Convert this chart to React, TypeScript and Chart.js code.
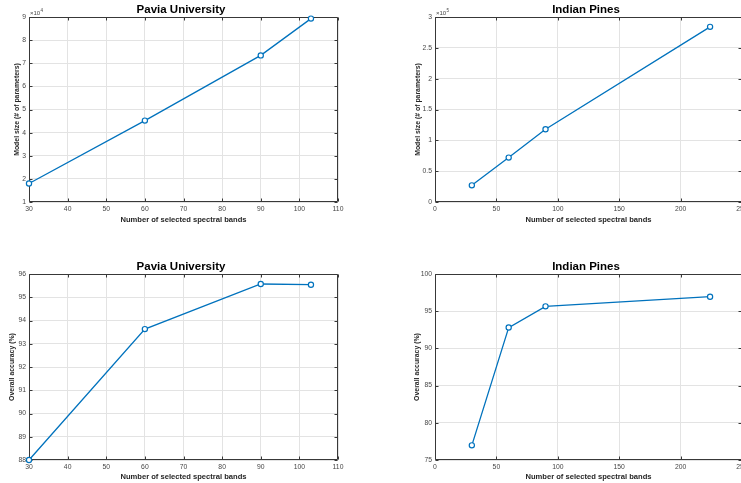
import React, { useEffect, useRef } from 'react';
import { Chart, registerables } from 'chart.js';

Chart.register(...registerables);

// ---- data ----
const puBands = [30, 60, 90, 103];
const puModelSize = [18000, 45200, 73400, 89300];
const puAccuracy = [88.0, 93.63, 95.57, 95.54];

const ipBands = [30, 60, 90, 224];
const ipModelSize = [27000, 72000, 118000, 284000];
const ipAccuracy = [76.97, 92.8, 95.65, 96.95];

// ---- tick labels ----
const puBandTicks = [30, 40, 50, 60, 70, 80, 90, 100, 110];
const ipBandTicks = [0, 50, 100, 150, 200, 250];
const puSizeTicks = [1, 2, 3, 4, 5, 6, 7, 8, 9]; // x10^4
const ipSizeTicks = [0, 0.5, 1, 1.5, 2, 2.5, 3]; // x10^5
const puAccTicks = [88, 89, 90, 91, 92, 93, 94, 95, 96];
const ipAccTicks = [75, 80, 85, 90, 95, 100];

const puSizeExp = 4;
const ipSizeExp = 5;

const titlePU = 'Pavia University';
const titleIP = 'Indian Pines';
const xLabel = 'Number of selected spectral bands';
const yLabelSize = 'Model size (# of parameters)';
const yLabelAcc = 'Overall accuracy (%)';

const FONT = '"Liberation Sans", Arial, Helvetica, sans-serif';
const BLUE = '#0072BD';
const GRID = '#e3e3e3';
const AXIS = '#383838';
const TICK = '#474747';
const LABEL = '#262626';

type PanelProps = {
  left: number;
  top: number;
  width: number;
  height: number;
  area: { l: number; r: number; t: number; b: number };
  xs: number[];
  ys: number[];
  xTicks: number[];
  yTicks: number[];
  exp: number | null;
  title: string;
  yTitle: string;
  yTitlePad: number;
  xTitlePad: number;
};

function Panel(p: PanelProps) {
  const ref = useRef<HTMLCanvasElement>(null);

  useEffect(() => {
    const canvas = ref.current;
    if (!canvas) return;
    const { area } = p;
    const factor = p.exp === null ? 1 : Math.pow(10, p.exp);
    const yVals = p.yTicks.map((t) => t * factor);

    const plugin = {
      id: 'matlabAxes',
      beforeDatasetsDraw(chart: any) {
        const { ctx, chartArea: a, scales } = chart;
        const sx = scales.x;
        const sy = scales.y;
        const L = Math.round(a.left) + 0.5;
        const R = Math.round(a.right) - 0.5;
        const T = Math.round(a.top) + 0.5;
        const B = Math.round(a.bottom) - 0.5;
        ctx.save();
        ctx.strokeStyle = AXIS;
        ctx.lineWidth = 1;
        ctx.beginPath();
        ctx.rect(L, T, R - L, B - T);
        ctx.stroke();
        const tl = 3;
        ctx.beginPath();
        p.xTicks.forEach((v) => {
          const X = Math.round(sx.getPixelForValue(v)) + 0.5;
          ctx.moveTo(X, B);
          ctx.lineTo(X, B - tl);
          ctx.moveTo(X, T);
          ctx.lineTo(X, T + tl);
        });
        yVals.forEach((v) => {
          const Y = Math.round(sy.getPixelForValue(v)) + 0.5;
          ctx.moveTo(L, Y);
          ctx.lineTo(L + tl, Y);
          ctx.moveTo(R, Y);
          ctx.lineTo(R - tl, Y);
        });
        ctx.stroke();
        ctx.restore();
      },
      afterDraw(chart: any) {
        const { ctx, chartArea: a } = chart;
        ctx.save();
        ctx.fillStyle = '#000';
        ctx.font = `bold 11.5px ${FONT}`;
        ctx.textAlign = 'center';
        ctx.textBaseline = 'middle';
        ctx.fillText(p.title, (a.left + a.right) / 2 - 2.5, a.top - 7.5);
        if (p.exp !== null) {
          ctx.fillStyle = TICK;
          ctx.textAlign = 'left';
          ctx.textBaseline = 'alphabetic';
          ctx.font = `6px ${FONT}`;
          const base = '\u00d710';
          const x0 = a.left + 1;
          ctx.fillText(base, x0, a.top - 2);
          const w = ctx.measureText(base).width;
          ctx.font = `4.5px ${FONT}`;
          ctx.fillText(String(p.exp), x0 + w + 0.3, a.top - 5.5);
        }
        ctx.restore();
      },
    };

    const fmt = (v: number) => String(Math.round((v / factor) * 1000) / 1000);

    const chart = new Chart(canvas, {
      type: 'line',
      data: {
        datasets: [
          {
            data: p.xs.map((x, i) => ({ x, y: p.ys[i] })),
            borderColor: BLUE,
            borderWidth: 1.3,
            pointRadius: 2.6,
            pointBorderWidth: 1.2,
            pointBackgroundColor: '#ffffff',
            pointBorderColor: BLUE,
            pointStyle: 'circle',
            tension: 0,
            clip: false,
          } as any,
        ],
      },
      options: {
        animation: false,
        responsive: false,
        devicePixelRatio: 1,
        layout: {
          padding: { left: 0, top: area.t, right: p.width - area.r, bottom: 0 },
        },
        plugins: {
          legend: { display: false },
          tooltip: { enabled: false },
          title: { display: false },
        },
        scales: {
          x: {
            type: 'linear',
            min: p.xTicks[0],
            max: p.xTicks[p.xTicks.length - 1],
            afterBuildTicks: (s: any) => {
              s.ticks = p.xTicks.map((value) => ({ value }));
            },
            afterFit: (s: any) => {
              s.height = p.height - area.b;
            },
            grid: { color: GRID, lineWidth: 1, drawTicks: false },
            border: { display: false },
            ticks: {
              padding: 3,
              color: TICK,
              autoSkip: false,
              maxRotation: 0,
              font: { family: FONT, size: 6.8 },
              callback: (v: any) => String(v),
            },
            title: {
              display: true,
              text: xLabel,
              color: LABEL,
              font: { family: FONT, size: 7.6, weight: 'bold' },
              padding: { top: p.xTitlePad, bottom: p.xTitlePad },
            },
          },
          y: {
            type: 'linear',
            min: yVals[0],
            max: yVals[yVals.length - 1],
            afterBuildTicks: (s: any) => {
              s.ticks = yVals.map((value) => ({ value }));
            },
            afterFit: (s: any) => {
              s.width = area.l;
            },
            grid: { color: GRID, lineWidth: 1, drawTicks: false },
            border: { display: false },
            ticks: {
              padding: 3,
              color: TICK,
              autoSkip: false,
              font: { family: FONT, size: 6.8 },
              callback: (v: any) => fmt(Number(v)),
            },
            title: {
              display: true,
              text: p.yTitle,
              color: LABEL,
              font: { family: FONT, size: 6.9, weight: 'bold' },
              padding: { top: p.yTitlePad, bottom: p.yTitlePad },
            },
          },
        },
      } as any,
      plugins: [plugin],
    });
    return () => chart.destroy();
  }, []);

  return (
    <canvas
      ref={ref}
      width={p.width}
      height={p.height}
      style={{ position: 'absolute', left: p.left, top: p.top, width: p.width, height: p.height }}
    />
  );
}

export default function App() {
  return (
    <div
      style={{
        position: 'absolute',
        left: 0,
        top: 0,
        width: 741,
        height: 483,
        overflow: 'hidden',
        background: '#ffffff',
      }}
    >
      <Panel
        left={0}
        top={0}
        width={370}
        height={240}
        area={{ l: 29, r: 338, t: 17, b: 202 }}
        xs={puBands}
        ys={puModelSize}
        xTicks={puBandTicks}
        yTicks={puSizeTicks}
        exp={puSizeExp}
        title={titlePU}
        yTitle={yLabelSize}
        yTitlePad={12.5}
        xTitlePad={16}
      />
      <Panel
        left={370}
        top={0}
        width={390}
        height={240}
        area={{ l: 65, r: 372, t: 17, b: 202 }}
        xs={ipBands}
        ys={ipModelSize}
        xTicks={ipBandTicks}
        yTicks={ipSizeTicks}
        exp={ipSizeExp}
        title={titleIP}
        yTitle={yLabelSize}
        yTitlePad={43.8}
        xTitlePad={15.7}
      />
      <Panel
        left={0}
        top={240}
        width={370}
        height={243}
        area={{ l: 29, r: 338, t: 34, b: 220 }}
        xs={puBands}
        ys={puAccuracy}
        xTicks={puBandTicks}
        yTicks={puAccTicks}
        exp={null}
        title={titlePU}
        yTitle={yLabelAcc}
        yTitlePad={8.3}
        xTitlePad={1.8}
      />
      <Panel
        left={370}
        top={240}
        width={390}
        height={243}
        area={{ l: 65, r: 372, t: 34, b: 220 }}
        xs={ipBands}
        ys={ipAccuracy}
        xTicks={ipBandTicks}
        yTicks={ipAccTicks}
        exp={null}
        title={titleIP}
        yTitle={yLabelAcc}
        yTitlePad={42.5}
        xTitlePad={1.9}
      />
    </div>
  );
}
